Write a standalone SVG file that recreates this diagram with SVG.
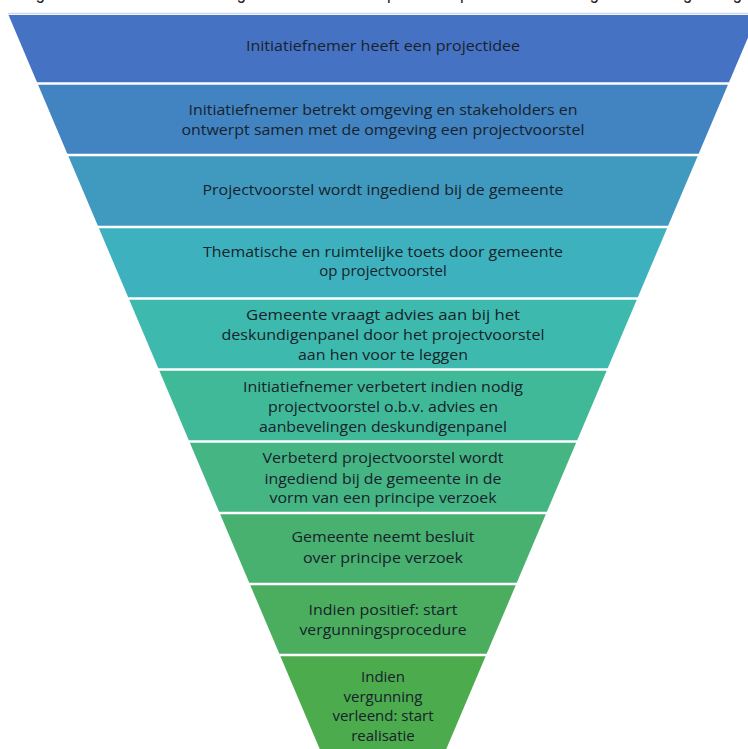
<svg xmlns="http://www.w3.org/2000/svg" width="748" height="749" viewBox="0 0 748 749">
<style>
  .band { stroke: none; }
  .lbl { font-family: "Open Sans", "Noto Sans", "Liberation Sans", sans-serif; font-size: 15px; fill: #17222c; text-anchor: middle; }
  .top { font-family: "Liberation Sans", Arial, sans-serif; font-size: 20px; fill: #222; }
</style>
<rect width="748" height="749" fill="#ffffff"/>
<text class="top" x="22" y="-1.5" textLength="720" lengthAdjust="spacingAndGlyphs">Figuur 1: Schematische weergave van de doorloop van het proces van de volgorde en vergunning</text>
<line x1="8" y1="13.5" x2="748" y2="13.5" stroke="#cdd7ea" stroke-width="1.5"/>

<g id="step1">
  <polygon class="band" fill="#4672c4" points="8.5,15 757.5,15 729,82.25 37,82.25"/>
  <text class="lbl" x="383" y="51" textLength="274" lengthAdjust="spacingAndGlyphs">Initiatiefnemer heeft een projectidee</text>
</g>
<g id="step2">
  <polygon class="band" fill="#4283c1" points="38.07,84.75 727.93,84.75 698.67,153.75 67.33,153.75"/>
  <text class="lbl" x="383" y="115" textLength="389" lengthAdjust="spacingAndGlyphs">Initiatiefnemer betrekt omgeving en stakeholders en</text>
  <text class="lbl" x="383" y="135" textLength="403" lengthAdjust="spacingAndGlyphs">ontwerpt samen met de omgeving een projectvoorstel</text>
</g>
<g id="step3">
  <polygon class="band" fill="#409abf" points="68.39,156.25 697.61,156.25 668.14,225.75 97.86,225.75"/>
  <text class="lbl" x="383" y="195" textLength="361" lengthAdjust="spacingAndGlyphs">Projectvoorstel wordt ingediend bij de gemeente</text>
</g>
<g id="step4">
  <polygon class="band" fill="#3db2be" points="98.92,228.25 667.08,228.25 637.83,297.25 128.17,297.25"/>
  <text class="lbl" x="383" y="257" textLength="360" lengthAdjust="spacingAndGlyphs">Thematische en ruimtelijke toets door gemeente</text>
  <text class="lbl" x="383" y="276">op projectvoorstel</text>
</g>
<g id="step5">
  <polygon class="band" fill="#3dbaad" points="129.23,299.75 636.77,299.75 607.72,368.25 158.28,368.25"/>
  <text class="lbl" x="383" y="320" textLength="274" lengthAdjust="spacingAndGlyphs">Gemeente vraagt advies aan bij het</text>
  <text class="lbl" x="383" y="340" textLength="323" lengthAdjust="spacingAndGlyphs">deskundigenpanel  door het projectvoorstel</text>
  <text class="lbl" x="383" y="360" textLength="170" lengthAdjust="spacingAndGlyphs">aan hen voor te leggen</text>
</g>
<g id="step6">
  <polygon class="band" fill="#40b999" points="159.34,370.75 606.66,370.75 577.19,440.25 188.81,440.25"/>
  <text class="lbl" x="383" y="392" textLength="280" lengthAdjust="spacingAndGlyphs">Initiatiefnemer verbetert indien nodig</text>
  <text class="lbl" x="383" y="412" textLength="230" lengthAdjust="spacingAndGlyphs">projectvoorstel o.b.v. advies en</text>
  <text class="lbl" x="383" y="432" textLength="248" lengthAdjust="spacingAndGlyphs">aanbevelingen deskundigenpanel</text>
</g>
<g id="step7">
  <polygon class="band" fill="#45b584" points="189.87,442.75 576.13,442.75 546.88,511.75 219.12,511.75"/>
  <text class="lbl" x="383" y="463" textLength="241" lengthAdjust="spacingAndGlyphs">Verbeterd projectvoorstel wordt</text>
  <text class="lbl" x="383" y="484" textLength="237" lengthAdjust="spacingAndGlyphs">ingediend bij de gemeente in de</text>
  <text class="lbl" x="383" y="503" textLength="227" lengthAdjust="spacingAndGlyphs">vorm van een principe verzoek</text>
</g>
<g id="step8">
  <polygon class="band" fill="#48b16f" points="220.18,514.25 545.82,514.25 516.77,582.75 249.23,582.75"/>
  <text class="lbl" x="383" y="542" textLength="183" lengthAdjust="spacingAndGlyphs">Gemeente neemt besluit</text>
  <text class="lbl" x="383" y="563" textLength="160" lengthAdjust="spacingAndGlyphs">over principe verzoek</text>
</g>
<g id="step9">
  <polygon class="band" fill="#4aae5e" points="250.29,585.25 515.71,585.25 486.67,653.75 279.33,653.75"/>
  <text class="lbl" x="383" y="615" textLength="149" lengthAdjust="spacingAndGlyphs">Indien positief: start</text>
  <text class="lbl" x="383" y="635" textLength="167" lengthAdjust="spacingAndGlyphs">vergunningsprocedure</text>
</g>
<g id="step10">
  <polygon class="band" fill="#4bab4d" points="280.39,656.25 485.61,656.25 441.62,760 324.38,760"/>
  <text class="lbl" x="383" y="682">Indien</text>
  <text class="lbl" x="383" y="702">vergunning</text>
  <text class="lbl" x="383" y="721">verleend: start</text>
  <text class="lbl" x="383" y="741">realisatie</text>
</g>
</svg>
